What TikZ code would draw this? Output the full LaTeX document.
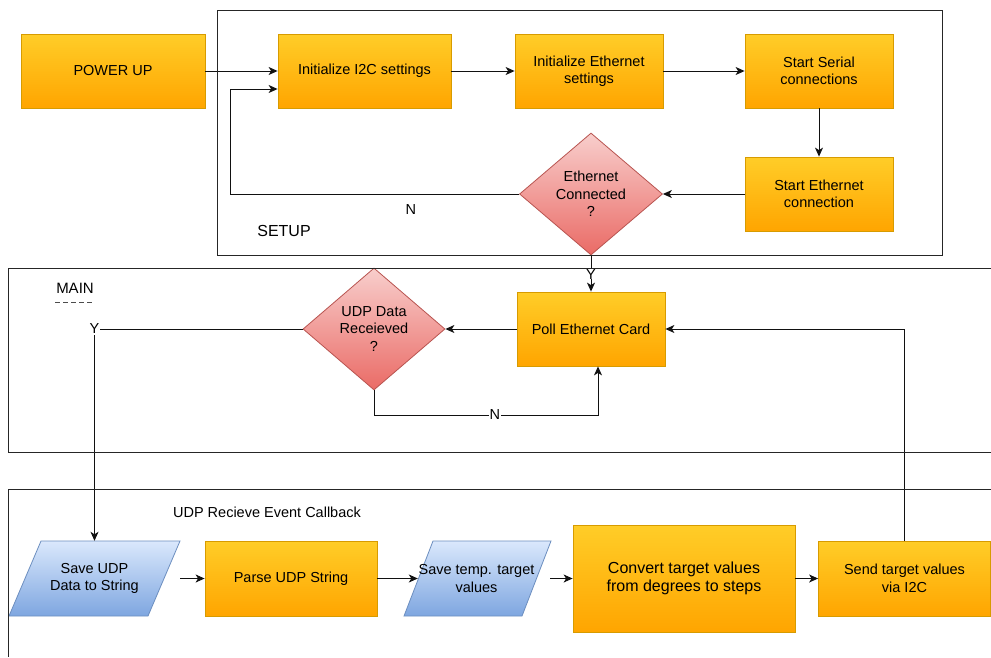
\documentclass[tikz,border=0pt]{standalone}
\usepackage{fontspec}
\setmainfont{Liberation Sans}
\usetikzlibrary{shapes.geometric,arrows.meta,calc}
\definecolor{orTop}{HTML}{FFCD28}
\definecolor{orBot}{HTML}{FFA500}
\definecolor{orStroke}{HTML}{D79B00}
\definecolor{rdTop}{HTML}{F8CECC}
\definecolor{rdBot}{HTML}{EA6B66}
\definecolor{rdStroke}{HTML}{B85450}
\definecolor{blTop}{HTML}{DAE8FC}
\definecolor{blBot}{HTML}{7EA6E0}
\definecolor{blStroke}{HTML}{6C8EBF}
\definecolor{lineC}{HTML}{111111}
\begin{document}
\begin{tikzpicture}[x=1pt,y=-1pt,
  every node/.style={font=\fontsize{14.5}{17.5}\selectfont, text=black},
  obox/.style={rectangle, draw=orStroke, line width=0.8pt, top color=orTop, bottom color=orBot, align=center, inner sep=0pt},
  dbox/.style={diamond, draw=rdStroke, line width=0.8pt, top color=rdTop, bottom color=rdBot, align=center, inner sep=0pt, minimum width=143pt, minimum height=122pt},
  pgram/.style={draw=blStroke, line width=0.8pt, top color=blTop, bottom color=blBot},
  holder/.style={rectangle, inner sep=0pt, align=center},
  frame/.style={draw=black!85, line width=1pt},
  arr/.style={draw=lineC, line width=1pt, -{Stealth[length=9pt,width=8pt,inset=2.5pt]}},
  lbl/.style={fill=white, inner sep=1pt},
]
\useasboundingbox (0,0) rectangle (991,657);

% setup row
\node[obox, minimum width=184pt, minimum height=74pt] (pu) at (113,71) {POWER UP};
\node[obox, minimum width=173pt, minimum height=74pt] (i2c) at (364.5,71) {Initialize I2C settings};
\node[obox, minimum width=148pt, minimum height=74pt] (ie) at (589,71) {Initialize Ethernet\\settings};
\node[obox, minimum width=148pt, minimum height=74pt] (ss) at (819,71) {Start Serial\\connections};
\node[obox, minimum width=148pt, minimum height=74pt] (se) at (819,194) {Start Ethernet\\connection};
\node[dbox] (ec) at (591,194) {Ethernet\\Connected\\?};

% main loop
\node[obox, minimum width=148pt, minimum height=74pt] (poll) at (591,329) {Poll Ethernet Card};
\node[dbox, minimum width=142pt] (udp) at (374,329) {UDP Data\\Receieved\\?};

% callback row
\path[pgram] (41,541) -- (180,541) -- (148,616) -- (9,616) -- cycle;
\node[holder, minimum width=171pt, minimum height=75pt] (save) at (94.5,578.5) {Save UDP\\Data to String};
\node[obox, minimum width=172pt, minimum height=75pt] (parse) at (291,578.5) {Parse UDP String};
\path[pgram] (433,541) -- (551,541) -- (522,616) -- (404,616) -- cycle;
\node[holder, minimum width=147pt, minimum height=75pt] (tmp) at (476.5,578.5) {Save temp. target\\values};
\node[obox, minimum width=222pt, minimum height=107pt, font=\fontsize{16}{18.5}\selectfont] (conv) at (684,578.5) {Convert target values\\from degrees to steps};
\node[obox, minimum width=172pt, minimum height=75pt] (send) at (904.5,578.5) {Send target values\\via I2C};

% connectors
\draw[arr] (pu) -- (i2c);
\draw[arr] (i2c) -- (ie);
\draw[arr] (ie) -- (ss);
\draw[arr] (ss) -- (se);
\draw[arr] (se) -- (ec);
\coordinate (lc1) at (230,194);
\draw[arr] (ec.west) -- node[pos=0.374, yshift=-16pt]{N} (lc1) |- ($(i2c.west)+(0,18)$);
\draw[arr] (ec.south) -- node[lbl, inner ysep=0pt, pos=0.52]{Y} (poll.north);
\draw[arr] (poll) -- (udp);
\coordinate (nc) at (598,415);
\draw[arr] (udp.south) |- node[lbl, inner sep=0.5pt, pos=0.77]{N} (nc) -- (nc |- poll.south);
\draw[arr] (udp.west) -| node[lbl, pos=0.5]{Y} (save.north);
\draw[arr] (send.north) |- (poll.east);
\draw[arr] (save.east) -- (parse.west);
\draw[arr] (parse.east) -- ($(tmp.west)+(15,0)$);
\draw[arr] (tmp.east) -- (conv.west);
\draw[arr] (conv.east) -- (send.west);

% frames
\draw[frame] (217,10) rectangle (942,255);
\draw[frame] (991,268) -- (8,268) -- (8,452) -- (991,452);
\draw[frame] (991,489) -- (8,489) -- (8,657);

% labels
\node[font=\fontsize{16}{19}\selectfont] (setuplbl) at (284,230.5) {SETUP};
\node[font=\fontsize{15}{18}\selectfont] (mainlbl) at (75,288) {MAIN};
\draw[black!70, line width=1pt, dash pattern=on 5pt off 3pt] (55,302) -- (94,302);
\node (cblbl) at (267,512) {UDP Recieve Event Callback};
\end{tikzpicture}
\end{document}
